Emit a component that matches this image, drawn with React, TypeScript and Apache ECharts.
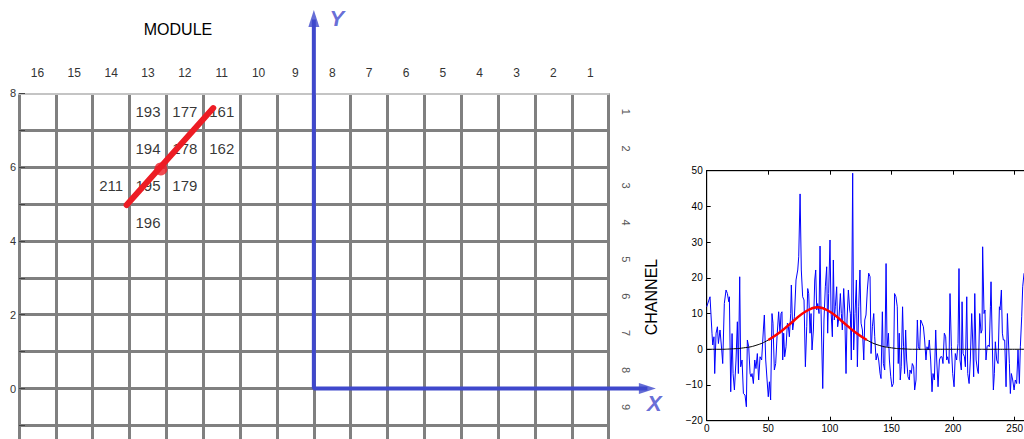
import React, { useEffect, useRef } from 'react';
import * as echarts from 'echarts';

// ---------- left panel data ----------
const MODULES = [16, 15, 14, 13, 12, 11, 10, 9, 8, 7, 6, 5, 4, 3, 2, 1];
const CHANNELS = [1, 2, 3, 4, 5, 6, 7, 8, 9];
const GRID_Y_LABELS = [0, 2, 4, 6, 8];
// [module, channel, value]
const CELL_VALUES: [number, number, number][] = [
  [13, 1, 193], [12, 1, 177], [11, 1, 161],
  [13, 2, 194], [12, 2, 178], [11, 2, 162],
  [14, 3, 211], [13, 3, 195], [12, 3, 179],
  [13, 4, 196],
];
const TRACK_LINE: [number, number][] = [[2.92, 4.97], [5.27, 7.6]];
const TRACK_POINT: [number, number] = [3.85, 5.95];
const BLUE_AXES: [number, number][] = [[8, 10.0], [8, 0], [17.05, 0]];
const ARROW_Y: [number, number] = [8, 10.03];
const ARROW_X: [number, number] = [17.05, 0];

// ---------- right panel data ----------
const SIGNAL_X = [
  0, 2.7, 4.3, 4.9, 5.9, 6.5, 7.6, 8.7, 9.5, 10.8, 12.2, 13, 14.3, 15.7, 16.8, 17.9, 18.4, 19.5, 20.6, 21.4,
  22.5, 23.8, 24.9, 25.7, 26.8, 27.6, 28.7, 29.8, 31.1, 32.2, 33, 34.1, 35.2, 36, 36.8, 37.9, 39, 40, 41.1, 42.2,
  43.3, 44.6, 46, 46.8, 47.9, 49, 50, 50.9, 51.9, 53, 53.8, 54.9, 56, 57.1, 58.4, 59.5, 60.3, 61.1, 61.7, 62.5,
  63.3, 64.4, 65.5, 66.3, 67.1, 68.2, 68.7, 69.8, 71.2, 72.5, 73.9, 74.7, 75.8, 76.8, 77.9, 79, 80.1, 81.2, 82, 82.8,
  83.9, 84.7, 85.5, 86.6, 87.7, 88.5, 89.3, 90.1, 91.2, 92, 92.8, 94.2, 95.2, 96.3, 97.4, 98.2, 99, 100.1, 100.9, 102,
  102.8, 103.6, 104.4, 105.5, 106.3, 107.4, 108.5, 109.3, 110.1, 111.2, 112, 113.1, 113.9, 115, 116.1, 116.6, 117.4, 118.5, 119.3, 120.4,
  121.5, 122.3, 123.4, 124.4, 125.3, 126.4, 127.5, 128.3, 129.3, 130.4, 131.5, 132.6, 133.4, 134.5, 135.6, 136.4, 137.5, 138.5, 139.6, 140.7,
  141.5, 142.6, 143.4, 144.5, 145.6, 146.4, 147.5, 148.3, 149.4, 150.4, 151.5, 152.5, 153.6, 154.7, 155.5, 156.3, 157.1, 157.9, 159, 159.8,
  160.6, 161.5, 162.3, 163.4, 164.5, 165, 166.1, 166.9, 168, 168.8, 169.9, 171, 171.8, 172.9, 173.7, 174.8, 175.9, 176.9, 178, 178.8,
  179.9, 180.7, 181.8, 182.9, 183.7, 184.8, 185.9, 186.7, 187.8, 188.9, 189.9, 191, 191.8, 192.9, 194, 194.8, 195.6, 196.7, 197.5, 198.6,
  199.7, 200.8, 201.8, 202.9, 204, 204.8, 205.6, 206.7, 207.3, 208.1, 209.2, 210, 211.1, 211.9, 213, 214, 215.1, 215.9, 216.7, 217.6,
  218.7, 219.8, 220.5, 221.6, 222.7, 223.5, 224, 225.1, 225.9, 226.7, 227.6, 228.6, 229.4, 230.3, 230.8, 231.6, 232.7, 233.5, 234.3, 235.4,
  236.5, 237.6, 238.1, 239.2, 240, 240.8, 241.9, 243, 244.1, 244.9, 245.7, 246.5, 247.3, 248.4, 249.5, 250.5, 251.6, 252.7, 253.8, 254.6,
  255.7, 256.5, 257.6,
];
const SIGNAL_Y = [
  11.9, 14.7, 4.5, 1.2, 3.5, -6.8, 4.5, 6.3, 1.6, 5.4, -0.2, -4, 12.8, 16.6, 15.6, 13.3, 14.7, -11.9, 4.4, -6.8,
  -11.4, -3, 7.7, -6.8, 20.3, -4.9, -3, -12.4, -12.8, -16.1, 2.6, 0.7, -6.8, -7.7, -6.8, -9.6, -3, -5.4, -1.2, -8.6,
  -2.1, -3, 5.4, 9.6, -3, -8.6, -13.3, -9.1, -14.2, 10, 7.3, -5.8, -4, 3.5, 10.5, 4.5, 10, 10.5, -3, 4.5,
  -2.1, 0.7, 7.3, 6.3, 3.5, 10, 18, 5.4, 9.1, 19.4, 22.2, 25.9, 43.5, 22.2, 14.7, 13.8, -4.9, 6.3, 17, 15.6,
  4.5, 10, -0.2, 5.4, 19.4, 22.2, 11, 12.8, 10, 28.9, 11, -11, 8.2, 17.5, 23.1, 4.5, 15.6, 30.6, 11, 3.5,
  25, 8.2, 11.9, 17.5, 6.3, 9.1, 15.6, 10, 5.4, 17, 11, -6.8, 8.2, 16.6, 11, 10, -3, 49.3, -0.2, 10,
  19.4, -4.9, 11.9, 22.2, 7.3, 5.4, -3, 8.2, 9.6, 16.6, 21.3, 20.3, -1.2, 6.3, 10, 3.5, -3, -1.2, -3, -6.8,
  -8.2, 10.5, -4, -5.8, 24, 0.7, 4.5, -3, -7.7, -10.5, -9.6, 15.6, 14.7, 11.9, -4, 4.5, -8.6, -4.9, 11.9, 0.7,
  -6.8, 5.4, -3, -7.7, -8.6, -5.8, -6.8, -4, -4.9, -11.4, -8.6, 8.2, 0.7, -0.2, 8.2, 7.3, 6.3, 2.6, -3, 0.7,
  -0.2, 2.6, -3, -11.9, -6.8, -8.6, 5.4, -3, -10.5, -3, -2.1, -2.1, -4, 4.5, 3.5, -3, -2.1, -4, 15.6, 0.7,
  -6.8, -10.5, -1.2, -3, 1.6, 22.6, -3, -5.8, 13.3, -1.2, -2.1, -4.9, 14.7, -6.8, -9.6, -3, 10, 2.6, -7.7, 15.6,
  -3, -5.8, -6.8, 10, 4.5, 5.4, 28.7, 10, 11, -3, 0.7, 1.2, 0.7, 11.9, 18.9, 5.4, -11.4, -6.8, 2.1, -3,
  -4, 11.9, 11, 16.6, 4.5, 2.6, 2.6, -10.5, 10, 2.6, -4, -12.4, -6.8, -8.6, -11.4, -8.6, -9.6, -0.2, -9.6, 0.7,
  9.1, 17.5, 21.3,
];
const FIT_X = [0, 10, 20, 30, 40, 50, 60, 70, 80, 90, 100, 110, 120, 130, 140, 150, 160, 170, 180, 190, 200, 210, 220, 230, 240, 250, 260];
const FIT_Y = [0, 0, 0.1, 0.4, 1.1, 2.6, 4.9, 7.8, 10.5, 11.8, 10.5, 7.8, 4.9, 2.6, 1.1, 0.4, 0.1, 0, 0, 0, 0, 0, 0, 0, 0, 0, 0];
const FIT_RED_RANGE = [50, 130];
const PLOT_X_TICKS = [0, 50, 100, 150, 200, 250];

const FONT = '"Liberation Sans", Arial, Helvetica, sans-serif';
const GRAY = '#808080';
const BLUE = '#3f48cc';

// left panel geometry (one grid unit in px)
const UNIT_X = 589.7 / 16;
const UNIT_Y = 36.9;

export default function App() {
  const ref = useRef<HTMLDivElement>(null);
  useEffect(() => {
    if (!ref.current) return;
    const chart = echarts.init(ref.current, undefined, { renderer: 'svg' });

    const cellData = CELL_VALUES.map(([m, c, v]) => [MODULES.indexOf(m) + 0.5, 8 - CHANNELS.indexOf(c) - 0.5, v]);
    const signal = SIGNAL_X.map((x, i) => [x, SIGNAL_Y[i]]);
    const fit = FIT_X.map((x, i) => [x, FIT_Y[i]]);
    const fitRed = fit.filter(([x]) => x >= FIT_RED_RANGE[0] && x <= FIT_RED_RANGE[1]);

    // overlay grid that shares the left panel's scale but extends to the arrow tips
    const ovXMax = ARROW_X[0];
    const ovYMax = ARROW_Y[1];

    const option: any = {
      animation: false,
      backgroundColor: '#ffffff',
      textStyle: { fontFamily: FONT },
      grid: [
        { left: 19, top: 93.3, width: 16 * UNIT_X, height: 10 * UNIT_Y, containLabel: false, outerBoundsMode: 'none' },
        { left: 706.7, top: 170.7, width: 320.3, height: 250, containLabel: false, outerBoundsMode: 'none', show: true, borderColor: '#000', borderWidth: 1 },
        {
          left: 19, top: 93.3 - (ovYMax - 8) * UNIT_Y, width: ovXMax * UNIT_X, height: (ovYMax + 2) * UNIT_Y,
          containLabel: false, outerBoundsMode: 'none',
        },
      ],
      xAxis: [
        {
          gridIndex: 0, type: 'value', min: 0, max: 16, interval: 1, position: 'bottom',
          axisLine: { show: false }, axisTick: { show: false }, axisLabel: { show: false },
          splitLine: { show: true, lineStyle: { color: GRAY, width: 3 } },
        },
        {
          gridIndex: 0, type: 'value', min: 0, max: 16, interval: 0.5, position: 'top',
          axisLine: { show: true, onZero: false, lineStyle: { color: '#c4c4c4', width: 2 } },
          axisTick: { show: false },
          splitLine: { show: false },
          axisLabel: {
            show: true, margin: 14, fontSize: 12, color: '#333', fontFamily: FONT,
            showMinLabel: false, showMaxLabel: false,
            formatter: (v: number) => {
              const i = v - 0.5;
              return Number.isInteger(i) && i >= 0 && i < MODULES.length ? String(MODULES[i]) : '';
            },
          },
        },
        {
          gridIndex: 1, type: 'value', min: 0, max: 260, interval: 50, position: 'bottom',
          axisLine: { show: true, onZero: false, lineStyle: { color: '#000', width: 1 } },
          axisTick: { show: true, inside: true, length: 4, lineStyle: { color: '#000' } },
          splitLine: { show: false },
          axisLabel: {
            margin: 3, fontSize: 10, color: '#000', fontFamily: FONT,
            formatter: (v: number) => (PLOT_X_TICKS.includes(v) ? String(v) : ''),
          },
        },
        {
          gridIndex: 1, type: 'value', min: 0, max: 260, interval: 50, position: 'top',
          axisLine: { show: true, onZero: false, lineStyle: { color: '#000', width: 1 } },
          axisTick: { show: true, inside: true, length: 4, lineStyle: { color: '#000' } },
          splitLine: { show: false }, axisLabel: { show: false },
        },
        {
          gridIndex: 2, type: 'value', min: 0, max: ovXMax, show: false,
        },
      ],
      yAxis: [
        {
          gridIndex: 0, type: 'value', min: -2, max: 8, interval: 1, position: 'left',
          axisLine: { show: false },
          axisTick: { show: true, inside: true, length: 6, lineStyle: { color: '#444', width: 1 } },
          splitLine: { show: true, showMaxLine: false, lineStyle: { color: GRAY, width: 3 } },
          axisLabel: {
            margin: 3, fontSize: 11, color: '#333', fontFamily: FONT,
            formatter: (v: number) => (GRID_Y_LABELS.includes(v) ? String(v) : ''),
          },
        },
        {
          gridIndex: 0, type: 'value', min: -2, max: 8, interval: 0.5, position: 'right',
          axisLine: { show: false }, axisTick: { show: false }, splitLine: { show: false },
          axisLabel: {
            margin: 12, fontSize: 11, color: '#555', fontFamily: FONT, rotate: -90,
            formatter: (v: number) => {
              const i = 7.5 - v;
              return Number.isInteger(i) && i >= 0 && i < CHANNELS.length ? String(CHANNELS[i]) : '';
            },
          },
        },
        {
          gridIndex: 1, type: 'value', min: -20, max: 50, interval: 10, position: 'left',
          axisLine: { show: true, onZero: false, lineStyle: { color: '#000', width: 1 } },
          axisTick: { show: true, inside: true, length: 4, lineStyle: { color: '#000' } },
          splitLine: { show: false },
          axisLabel: {
            margin: 4, fontSize: 10, color: '#000', fontFamily: FONT,
            formatter: (v: number) => (v < 0 ? '\u2212' + Math.abs(v) : String(v)),
          },
        },
        {
          gridIndex: 2, type: 'value', min: -2, max: ovYMax, show: false,
        },
      ],
      graphic: [
        {
          type: 'text', x: 178, y: 29,
          style: { text: 'MODULE', fontSize: 16, fontFamily: FONT, fill: '#000', align: 'center', verticalAlign: 'middle' },
        },
        {
          type: 'text', x: 651, y: 297, rotation: Math.PI / 2,
          style: { text: 'CHANNEL', fontSize: 16, fontFamily: FONT, fill: '#000', align: 'center', verticalAlign: 'middle' },
        },
      ],
      series: [
        {
          type: 'scatter', xAxisIndex: 0, yAxisIndex: 0, data: cellData, symbolSize: 1,
          itemStyle: { color: 'rgba(0,0,0,0)' },
          label: {
            show: true, position: 'inside', fontSize: 15, color: '#000', fontFamily: FONT,
            formatter: (p: any) => String(p.value[2]),
          },
          z: 3,
        },
        {
          type: 'line', xAxisIndex: 4, yAxisIndex: 3, data: BLUE_AXES, clip: false, symbol: 'none',
          lineStyle: { color: BLUE, width: 4 }, z: 4,
        },
        {
          type: 'scatter', xAxisIndex: 4, yAxisIndex: 3, clip: false,
          data: [
            { value: ARROW_Y, symbolRotate: 0, label: { show: true, formatter: 'Y', offset: [23, 0] } },
            { value: ARROW_X, symbolRotate: -90, label: { show: true, formatter: 'X', offset: [7, 15] } },
          ],
          symbol: 'triangle', symbolSize: [11, 17],
          itemStyle: { color: BLUE },
          label: {
            show: true, position: 'inside', fontSize: 22, fontWeight: 'bold', fontStyle: 'italic',
            color: BLUE, fontFamily: FONT,
          },
          z: 5,
        },
        {
          type: 'line', xAxisIndex: 0, yAxisIndex: 0, data: TRACK_LINE, symbol: 'none',
          lineStyle: { color: '#ed1c24', width: 6, cap: 'round' }, z: 6,
        },
        {
          type: 'scatter', xAxisIndex: 0, yAxisIndex: 0, data: [TRACK_POINT], symbol: 'circle', symbolSize: 13,
          itemStyle: { color: '#ed1c24' }, z: 6,
        },
        {
          type: 'line', xAxisIndex: 2, yAxisIndex: 2, data: signal, symbol: 'none',
          lineStyle: { color: '#0000ff', width: 1 }, z: 3,
        },
        {
          type: 'line', xAxisIndex: 2, yAxisIndex: 2, data: fit, symbol: 'none', smooth: true,
          lineStyle: { color: '#000', width: 1 }, z: 4,
        },
        {
          type: 'line', xAxisIndex: 2, yAxisIndex: 2, data: fitRed, symbol: 'none', smooth: true,
          lineStyle: { color: '#ff0000', width: 2.5 }, z: 5,
        },
      ],
    };
    chart.setOption(option);
    return () => chart.dispose();
  }, []);
  return <div ref={ref} style={{ position: 'absolute', left: 0, top: 0, width: 1024, height: 439 }} />;
}
